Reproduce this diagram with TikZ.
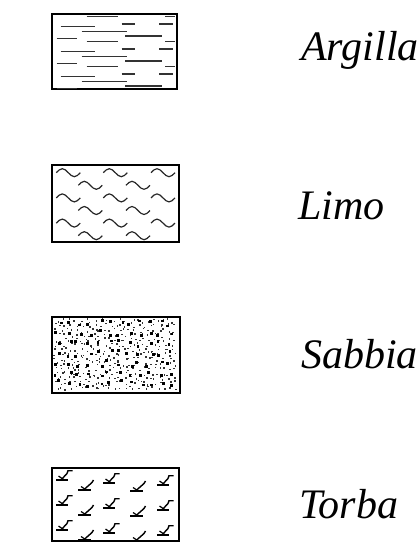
\documentclass[tikz,border=0pt]{standalone}
\usepackage{xcolor}
\usepackage{fontspec}
\setmainfont{Liberation Serif}

\tikzset{
    caja/.style={draw, line width=1.3pt, inner sep=0pt},
    etiqueta/.style={anchor=base west, inner sep=0pt,
        font=\fontsize{42}{50}\selectfont\itshape},
    raya/.style={line width=1.2pt, black!80},
    onda/.style={line width=1.2pt, black!85},
    torbaA/.pic={
        \draw[line width=1.5pt] (0,10) -- (12,10);
        \draw[line width=1.4pt] (5,10) -- (11,3.5) -- (12,0.7) -- (16.5,0.7);
        \draw[line width=1.2pt] (2.5,6) -- (7.5,9.5);
    },
    torbaB/.pic={
        \draw[line width=1.5pt] (0,10) -- (13,10);
        \draw[line width=1.4pt] (5.5,10) -- (14,2.5) -- (15.5,0);
        \draw[line width=1.2pt] (3,6.5) -- (7.5,9.5);
    }
}

\begin{document}
\begin{tikzpicture}[x=1pt, y=-1pt]
        \useasboundingbox (0,0) rectangle (420,546);

        % Paso 1: Define los cuadros de cada suelo
        \node[caja, minimum width=125pt, minimum height=75pt] (A) at (114.5,51.5) {};
        \node[caja, minimum width=127pt, minimum height=77pt] (L) at (115.5,203.5) {};
        \node[caja, minimum width=128pt, minimum height=76pt] (S) at (116,355) {};
        \node[caja, minimum width=127pt, minimum height=73pt] (T) at (115.5,504.5) {};

        % Paso 2: Rayas de la argilla
        \begin{scope}
            \clip (53,15) rectangle (176,88);
            \foreach \r in {0,1,2}
                \foreach \xa/\xb/\dy in {86.7/118.3/0, 165/175/0, 121.7/135/7.3,
                    159.3/172.7/7.3, 60.7/95/10, 81.7/126.7/15, 125/161.7/19.3,
                    56.7/76.7/22}
                    \draw[raya] ({\xa},{16.7+25*\r+\dy}) -- ({\xb},{16.7+25*\r+\dy});
        \end{scope}

        % Paso 3: Ondas del limo
        \foreach \f in {0,2,4}
            \foreach \c in {68.3,115.3,163}
                \draw[onda] ({\c-12},{172.7+12.6*\f}) sin ++(6,-4) cos ++(6,4)
                    sin ++(6,4) cos ++(6,-4);
        \foreach \f in {1,3,5}
            \foreach \c in {90.3,138}
                \draw[onda] ({\c-12},{172.7+12.6*\f}) sin ++(6,-4) cos ++(6,4)
                    sin ++(6,4) cos ++(6,-4);

        % Paso 4: Puntos de la sabbia
        \pgfmathsetseed{4217}
        \foreach \i in {0,...,24}
            \foreach \j in {0,...,14}{
                \pgfmathsetmacro{\px}{55.5+4.9*\i+2.4*rand}
                \pgfmathsetmacro{\py}{320+4.8*\j+2.2*rand}
                \fill[black!80] (\px,\py) rectangle ++(1.5,1.5);
            }
        \foreach \i in {0,...,11}
            \foreach \j in {0,...,6}{
                \pgfmathsetmacro{\px}{57+10.2*\i+3.5*rand}
                \pgfmathsetmacro{\py}{322+10*\j+3.3*rand}
                \fill (\px,\py) rectangle ++(2.8,2.8);
            }

        % Paso 5: Simbolos de la torba
        \foreach \r in {0,1,2}
            \foreach \cx/\dy/\tipo in {56/0/torbaA, 78/10/torbaB, 103/3/torbaA,
                130/11/torbaB, 157/5/torbaA}
                \pic at ({\cx},{470+25*\r+\dy}) {\tipo};

        % Paso 6: Agrega las leyendas
        \node[etiqueta] (tA) at (301,60) {Argilla};
        \node[etiqueta] (tL) at (298,219) {Limo};
        \node[etiqueta] (tS) at (301,368) {Sabbia};
        \node[etiqueta] (tT) at (299,518) {Torba};
    \end{tikzpicture}
\end{document}
